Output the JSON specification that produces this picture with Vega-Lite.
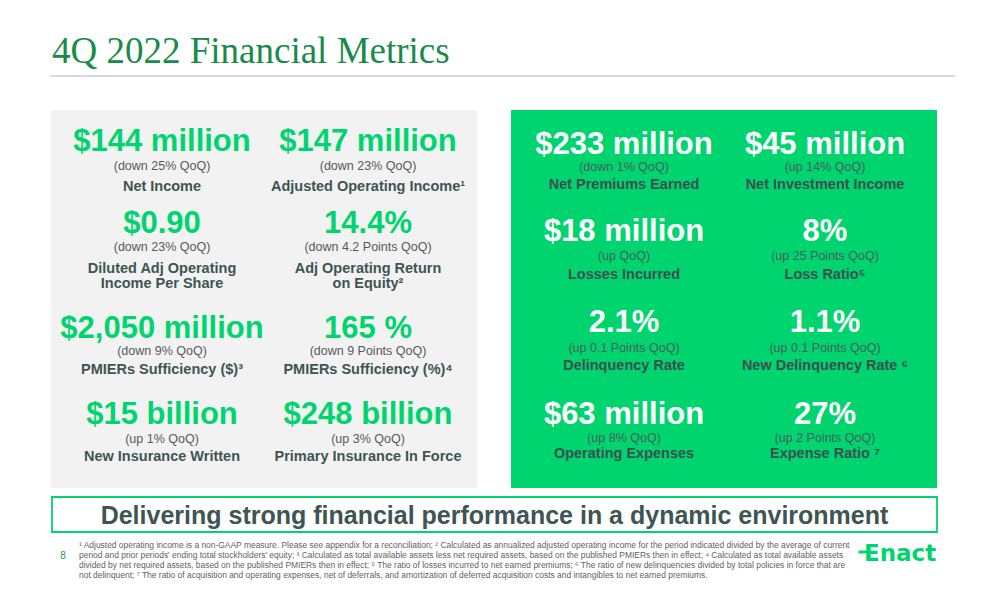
{
  "$schema": "https://vega.github.io/schema/vega-lite/v6.json",
  "width": 1008,
  "height": 612,
  "autosize": {"type": "fit", "contains": "padding"},
  "padding": 0,
  "background": "white",
  "config": {"view": {"stroke": null}, "text": {"font": "Liberation Sans"}},
  "datasets": {
    "metrics": [
      {"panel": "left", "col": 1, "row": 1, "value": "$144 million", "change": "(down 25% QoQ)", "label": "Net Income"},
      {"panel": "left", "col": 2, "row": 1, "value": "$147 million", "change": "(down 23% QoQ)", "label": "Adjusted Operating Income¹"},
      {"panel": "left", "col": 1, "row": 2, "value": "$0.90", "change": "(down 23% QoQ)", "label": "Diluted Adj Operating\nIncome Per Share"},
      {"panel": "left", "col": 2, "row": 2, "value": "14.4%", "change": "(down 4.2 Points QoQ)", "label": "Adj Operating Return\non Equity²"},
      {"panel": "left", "col": 1, "row": 3, "value": "$2,050 million", "change": "(down 9% QoQ)", "label": "PMIERs Sufficiency ($)³"},
      {"panel": "left", "col": 2, "row": 3, "value": "165 %", "change": "(down 9 Points QoQ)", "label": "PMIERs Sufficiency (%)⁴"},
      {"panel": "left", "col": 1, "row": 4, "value": "$15 billion", "change": "(up 1% QoQ)", "label": "New Insurance Written"},
      {"panel": "left", "col": 2, "row": 4, "value": "$248 billion", "change": "(up 3% QoQ)", "label": "Primary Insurance In Force"},
      {"panel": "right", "col": 3, "row": 1, "value": "$233 million", "change": "(down 1% QoQ)", "label": "Net Premiums Earned"},
      {"panel": "right", "col": 4, "row": 1, "value": "$45 million", "change": "(up 14% QoQ)", "label": "Net Investment Income"},
      {"panel": "right", "col": 3, "row": 2, "value": "$18 million", "change": "(up QoQ)", "label": "Losses Incurred"},
      {"panel": "right", "col": 4, "row": 2, "value": "8%", "change": "(up 25 Points QoQ)", "label": "Loss Ratio⁵"},
      {"panel": "right", "col": 3, "row": 3, "value": "2.1%", "change": "(up 0.1 Points QoQ)", "label": "Delinquency Rate"},
      {"panel": "right", "col": 4, "row": 3, "value": "1.1%", "change": "(up 0.1 Points QoQ)", "label": "New Delinquency Rate ⁶"},
      {"panel": "right", "col": 3, "row": 4, "value": "$63 million", "change": "(up 8% QoQ)", "label": "Operating Expenses"},
      {"panel": "right", "col": 4, "row": 4, "value": "27%", "change": "(up 2 Points QoQ)", "label": "Expense Ratio ⁷"}
    ],
    "panels": [
      {"panel": "left", "section": "metrics"},
      {"panel": "right", "section": "metrics"}
    ],
    "heading": [{"title": "4Q 2022 Financial Metrics"}],
    "banner": [{"banner": "Delivering strong financial performance in a dynamic environment"}],
    "footnotes": [
      {"line": 1, "note": "¹ Adjusted operating income is a non-GAAP measure. Please see appendix for a reconciliation; ² Calculated as annualized adjusted operating income for the period indicated divided by the average of current"},
      {"line": 2, "note": "period and prior periods' ending total stockholders' equity; ³ Calculated as total available assets less net required assets, based on the published PMIERs then in effect; ⁴ Calculated as total available assets"},
      {"line": 3, "note": "divided by net required assets, based on the published PMIERs then in effect; ⁵ The ratio of losses incurred to net earned premiums;  ⁶ The ratio of new delinquencies divided by total policies in force that are"},
      {"line": 4, "note": "not delinquent; ⁷ The ratio of acquisition and operating expenses, net of deferrals, and amortization of deferred acquisition costs and intangibles to net earned premiums."}
    ],
    "page": [{"page": "8", "brand": "Enact"}]
  },
  "layer": [
    {
      "data": {"name": "heading"},
      "mark": {"type": "text", "font": "Liberation Serif", "fontSize": 37, "color": "#178b4a", "align": "left", "baseline": "alphabetic"},
      "encoding": {
        "x": {"field": "title", "type": "nominal", "bandPosition": 0, "scale": {"type": "band", "range": [52, 452]}, "axis": null},
        "y": {"field": "title", "type": "nominal", "bandPosition": 0, "scale": {"type": "band", "range": [63, 70]}, "axis": null},
        "text": {"field": "title"}
      }
    },
    {
      "data": {"name": "heading"},
      "mark": {"type": "rect", "fill": "#d9d9d9"},
      "encoding": {
        "x": {"field": "title", "type": "nominal", "scale": {"type": "band", "range": [50, 955], "padding": 0}, "axis": null},
        "y": {"field": "title", "type": "nominal", "scale": {"type": "band", "range": [75, 77], "padding": 0}, "axis": null}
      }
    },
    {
      "data": {"name": "panels"},
      "mark": {"type": "rect"},
      "encoding": {
        "x": {"field": "panel", "type": "nominal", "scale": {"type": "band", "domain": ["left", "right"], "range": [51, 937], "paddingInner": 0.074, "paddingOuter": 0}, "axis": null},
        "y": {"field": "section", "type": "nominal", "scale": {"type": "band", "range": [110, 488], "padding": 0}, "axis": null},
        "fill": {"field": "panel", "type": "nominal", "scale": {"domain": ["left", "right"], "range": ["#f2f2f2", "#00d46e"]}, "legend": null}
      }
    },
    {
      "data": {"name": "metrics"},
      "transform": [{"filter": "datum.panel == 'left'"}],
      "mark": {"type": "text", "fontSize": 31, "fontWeight": "bold", "color": "#00d46e", "align": "center", "baseline": "alphabetic"},
      "encoding": {
        "x": {"field": "col", "type": "quantitative", "scale": {"domain": [1, 2, 3, 4], "range": [162, 368, 624, 825], "nice": false, "zero": false}, "axis": null},
        "y": {"field": "row", "type": "quantitative", "scale": {"domain": [1, 2, 3, 4], "range": [151, 233, 338, 424], "nice": false, "zero": false}, "axis": null},
        "text": {"field": "value"}
      }
    },
    {
      "data": {"name": "metrics"},
      "transform": [{"filter": "datum.panel == 'left'"}],
      "mark": {"type": "text", "fontSize": 12.5, "color": "#595959", "align": "center", "baseline": "alphabetic"},
      "encoding": {
        "x": {"field": "col", "type": "quantitative", "scale": {"domain": [1, 2, 3, 4], "range": [162, 368, 624, 825], "nice": false, "zero": false}, "axis": null},
        "y": {"field": "row", "type": "quantitative", "scale": {"domain": [1, 2, 3, 4], "range": [170, 251, 354.5, 443], "nice": false, "zero": false}, "axis": null},
        "text": {"field": "change"}
      }
    },
    {
      "data": {"name": "metrics"},
      "transform": [{"filter": "datum.panel == 'left'"}],
      "mark": {"type": "text", "fontSize": 14.5, "fontWeight": "bold", "color": "#3e5553", "align": "center", "baseline": "alphabetic", "lineBreak": "\n", "lineHeight": 15},
      "encoding": {
        "x": {"field": "col", "type": "quantitative", "scale": {"domain": [1, 2, 3, 4], "range": [162, 368, 624, 825], "nice": false, "zero": false}, "axis": null},
        "y": {"field": "row", "type": "quantitative", "scale": {"domain": [1, 2, 3, 4], "range": [191, 273, 373.5, 461], "nice": false, "zero": false}, "axis": null},
        "text": {"field": "label"}
      }
    },
    {
      "data": {"name": "metrics"},
      "transform": [{"filter": "datum.panel == 'right'"}],
      "mark": {"type": "text", "fontSize": 31, "fontWeight": "bold", "color": "#ffffff", "align": "center", "baseline": "alphabetic"},
      "encoding": {
        "x": {"field": "col", "type": "quantitative", "scale": {"domain": [1, 2, 3, 4], "range": [162, 368, 624, 825], "nice": false, "zero": false}, "axis": null},
        "y": {"field": "row", "type": "quantitative", "scale": {"domain": [1, 2, 3, 4], "range": [153.5, 241, 332, 423.5], "nice": false, "zero": false}, "axis": null},
        "text": {"field": "value"}
      }
    },
    {
      "data": {"name": "metrics"},
      "transform": [{"filter": "datum.panel == 'right'"}],
      "mark": {"type": "text", "fontSize": 12.5, "color": "#476060", "align": "center", "baseline": "alphabetic"},
      "encoding": {
        "x": {"field": "col", "type": "quantitative", "scale": {"domain": [1, 2, 3, 4], "range": [162, 368, 624, 825], "nice": false, "zero": false}, "axis": null},
        "y": {"field": "row", "type": "quantitative", "scale": {"domain": [1, 2, 3, 4], "range": [171, 260, 351.7, 441.5], "nice": false, "zero": false}, "axis": null},
        "text": {"field": "change"}
      }
    },
    {
      "data": {"name": "metrics"},
      "transform": [{"filter": "datum.panel == 'right'"}],
      "mark": {"type": "text", "fontSize": 14.5, "fontWeight": "bold", "color": "#3d4f52", "align": "center", "baseline": "alphabetic"},
      "encoding": {
        "x": {"field": "col", "type": "quantitative", "scale": {"domain": [1, 2, 3, 4], "range": [162, 368, 624, 825], "nice": false, "zero": false}, "axis": null},
        "y": {"field": "row", "type": "quantitative", "scale": {"domain": [1, 2, 3, 4], "range": [189, 278.5, 370, 458], "nice": false, "zero": false}, "axis": null},
        "text": {"field": "label"}
      }
    },
    {
      "data": {"name": "banner"},
      "mark": {"type": "rect", "fill": "#ffffff", "stroke": "#00d46e", "strokeWidth": 1.8},
      "encoding": {
        "x": {"field": "banner", "type": "nominal", "scale": {"type": "band", "range": [52, 937], "padding": 0}, "axis": null},
        "y": {"field": "banner", "type": "nominal", "scale": {"type": "band", "range": [497, 532], "padding": 0}, "axis": null}
      }
    },
    {
      "data": {"name": "banner"},
      "mark": {"type": "text", "fontSize": 25, "fontWeight": "bold", "color": "#3e5553", "align": "center", "baseline": "alphabetic"},
      "encoding": {
        "x": {"field": "banner", "type": "nominal", "bandPosition": 0.5, "scale": {"type": "band", "range": [52, 937], "padding": 0}, "axis": null},
        "y": {"field": "banner", "type": "nominal", "bandPosition": 0.77, "scale": {"type": "band", "range": [497, 532], "padding": 0}, "axis": null},
        "text": {"field": "banner"}
      }
    },
    {
      "data": {"name": "footnotes"},
      "mark": {"type": "text", "fontSize": 8.45, "color": "#5f5f5f", "align": "left", "baseline": "alphabetic"},
      "encoding": {
        "x": {"field": "line", "type": "quantitative", "scale": {"domain": [1, 4], "range": [79, 79], "nice": false, "zero": false}, "axis": null},
        "y": {"field": "line", "type": "quantitative", "scale": {"domain": [1, 4], "range": [548, 578], "nice": false, "zero": false}, "axis": null},
        "text": {"field": "note"}
      }
    },
    {
      "data": {"name": "page"},
      "mark": {"type": "text", "fontSize": 10, "color": "#1f9a55", "align": "center", "baseline": "alphabetic"},
      "encoding": {
        "x": {"field": "page", "type": "nominal", "bandPosition": 0.5, "scale": {"type": "band", "range": [58, 68], "padding": 0}, "axis": null},
        "y": {"field": "page", "type": "nominal", "bandPosition": 0, "scale": {"type": "band", "range": [558.5, 560], "padding": 0}, "axis": null},
        "text": {"field": "page"}
      }
    },
    {
      "data": {"name": "page"},
      "mark": {"type": "text", "font": "DejaVu Sans", "fontSize": 23, "fontWeight": "bold", "color": "#00d46e", "align": "left", "baseline": "alphabetic"},
      "encoding": {
        "x": {"field": "brand", "type": "nominal", "bandPosition": 0, "scale": {"type": "band", "range": [864, 946], "padding": 0}, "axis": null},
        "y": {"field": "brand", "type": "nominal", "bandPosition": 0, "scale": {"type": "band", "range": [561, 565], "padding": 0}, "axis": null},
        "text": {"field": "brand"}
      }
    },
    {
      "data": {"name": "page"},
      "mark": {"type": "rect", "fill": "#00d46e"},
      "encoding": {
        "x": {"field": "brand", "type": "nominal", "scale": {"type": "band", "range": [858.5, 868], "padding": 0}, "axis": null},
        "y": {"field": "brand", "type": "nominal", "scale": {"type": "band", "range": [550.5, 553.5], "padding": 0}, "axis": null}
      }
    }
  ],
  "resolve": {"scale": {"x": "independent", "y": "independent", "fill": "independent"}}
}
